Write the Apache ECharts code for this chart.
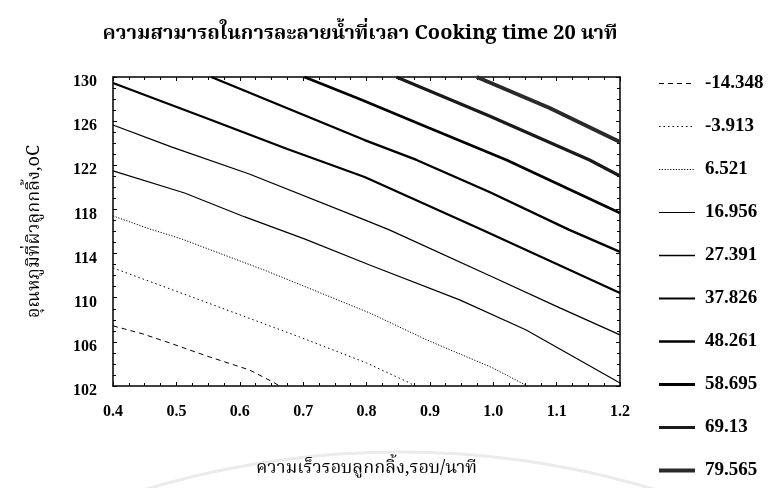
<!DOCTYPE html>
<html>
<head>
<meta charset="utf-8">
<script src="https://cdn.jsdelivr.net/npm/echarts@6/dist/echarts.min.js"></script>
<style>
  html, body { margin: 0; padding: 0; background: #fff; }
  #chart { width: 768px; height: 488px; }
</style>
</head>
<body>
<div id="chart"></div>
<script>
// Contour levels of water solubility (legend order)
const levelNames = ['-14.348', '-3.913', '6.521', '16.956', '27.391', '37.826', '48.261', '58.695', '69.13', '79.565'];

// Each contour: [roller speed (rpm), roller surface temperature (°C)]
const contour1 = [[0.400, 107.45], [0.447, 106.72], [0.489, 105.91], [0.552, 104.64], [0.615, 103.46], [0.652, 102.37], [0.663, 102.0]];
const contour2 = [[0.400, 112.70], [0.537, 109.80], [0.694, 106.45], [0.800, 104.09], [0.868, 102.28], [0.876, 102.0]];
const contour3 = [[0.400, 117.41], [0.458, 116.23], [0.508, 115.33], [0.642, 112.43], [0.805, 108.62], [0.895, 106.18], [0.999, 103.64], [1.054, 102.0]];
const contour4 = [[0.400, 121.49], [0.513, 119.49], [0.608, 117.32], [0.702, 115.33], [0.805, 112.97], [0.947, 109.80], [1.052, 107.08], [1.200, 102.28]];
const contour5 = [[0.400, 125.65], [0.492, 123.66], [0.615, 121.21], [0.797, 117.05], [0.836, 116.14], [0.999, 111.88], [1.105, 109.08], [1.200, 106.63]];
const contour6 = [[0.400, 129.46], [0.555, 126.11], [0.675, 123.48], [0.723, 122.48], [0.797, 120.94], [0.983, 116.14], [1.200, 110.43]];
const contour7 = [[0.555, 130.0], [0.797, 124.29], [0.879, 122.48], [0.994, 119.58], [1.120, 116.14], [1.200, 114.15]];
const contour8 = [[0.702, 130.0], [0.789, 128.01], [0.899, 125.38], [1.021, 122.48], [1.200, 117.68]];
const contour9 = [[0.847, 130.0], [0.994, 126.47], [1.152, 122.48], [1.200, 121.03]];
const contour10 = [[0.974, 130.0], [1.089, 127.19], [1.200, 124.11]];

const contours = [contour1, contour2, contour3, contour4, contour5, contour6, contour7, contour8, contour9, contour10];

// Axis ranges
const speedMin = 0.4, speedMax = 1.2, speedStep = 0.1;
const tempMin = 102, tempMax = 130, tempStep = 4;

// Line look for each level, thin/dashed for low values, heavy for high values
const lineLooks = [
  { width: 1, type: [5, 4], color: '#000' },
  { width: 1, type: [1.5, 3], color: '#000' },
  { width: 1, type: [1.2, 1.6], color: '#000' },
  { width: 1.2, type: 'solid', color: '#000' },
  { width: 1.3, type: 'solid', color: '#000' },
  { width: 2.2, type: 'solid', color: '#000' },
  { width: 2.4, type: 'solid', color: '#000' },
  { width: 2.8, type: 'solid', color: '#000' },
  { width: 3.2, type: 'solid', color: '#1a1a1a' },
  { width: 4, type: 'solid', color: '#2a2a2a' }
];

const serifBold = { fontFamily: 'Liberation Serif, Times New Roman, serif', fontWeight: 'bold', color: '#000' };
const thaiFont = 'Noto Serif Thai, Noto Sans Thai, Loma, Garuda, Tlwg Typo, Norasi, serif';

const chart = echarts.init(document.getElementById('chart'), null, { renderer: 'canvas' });

const axisCommon = {
  type: 'value',
  axisLine: { show: true, lineStyle: { color: '#000', width: 1.5 } },
  axisTick: { show: true, inside: true, length: 4, lineStyle: { color: '#000', width: 1 } },
  minorTick: { show: true, splitNumber: 4, length: 3, lineStyle: { color: '#000', width: 1 } },
  splitLine: { show: false },
  minorSplitLine: { show: false }
};

const option = {
  backgroundColor: '#fff',
  animation: false,
  title: {
    text: 'ความสามารถในการละลายน้ำที่เวลา Cooking time 20 นาที',
    left: 355,
    top: 21,
    textAlign: 'center',
    textStyle: { fontFamily: thaiFont, fontSize: 20, fontWeight: 'bold', color: '#000' }
  },
  legend: {
    orient: 'vertical',
    left: 657,
    top: 74,
    padding: 0,
    itemWidth: 36,
    itemHeight: 14,
    itemGap: 24,
    data: levelNames,
    textStyle: Object.assign({ fontSize: 19, padding: [0, 0, 0, 5] }, serifBold),
    itemStyle: { opacity: 0, borderWidth: 0 },
    lineStyle: { width: 'inherit' },
    selectedMode: false
  },
  graphic: [{
    // faint arc along the lower edge of the page
    type: 'arc',
    silent: true,
    z: -1,
    shape: { cx: 400, cy: 1338, r: 886, startAngle: Math.PI * 1.33, endAngle: Math.PI * 1.67 },
    style: { stroke: '#ebebeb', lineWidth: 3, fill: null }
  }],
  grid: { left: 113, top: 77, width: 507, height: 309, containLabel: false },
  xAxis: [
    Object.assign({}, axisCommon, {
      position: 'bottom',
      min: speedMin, max: speedMax, interval: speedStep,
      name: 'ความเร็วรอบลูกกลิ้ง,รอบ/นาที',
      nameLocation: 'middle',
      nameGap: 75,
      nameTextStyle: { fontFamily: thaiFont, fontSize: 18, color: '#000' },
      axisLabel: Object.assign({ fontSize: 16, margin: 18, formatter: v => v.toFixed(1) }, serifBold)
    }),
    Object.assign({}, axisCommon, {
      position: 'top',
      min: speedMin, max: speedMax, interval: speedStep,
      axisLabel: { show: false }
    })
  ],
  yAxis: [
    Object.assign({}, axisCommon, {
      position: 'left',
      min: tempMin, max: tempMax, interval: tempStep,
      name: 'อุณหภูมิที่ผิวลูกกลิ้ง,oC',
      nameLocation: 'middle',
      nameGap: 68,
      nameTextStyle: { fontFamily: thaiFont, fontSize: 18, color: '#000' },
      axisLabel: Object.assign({ fontSize: 16, margin: 16, verticalAlign: 'top', lineHeight: 10 }, serifBold)
    }),
    Object.assign({}, axisCommon, {
      position: 'right',
      min: tempMin, max: tempMax, interval: tempStep,
      axisLabel: { show: false }
    })
  ],
  series: contours.map((pts, i) => ({
    name: levelNames[i],
    type: 'line',
    xAxisIndex: 0,
    yAxisIndex: 0,
    data: pts,
    symbol: 'none',
    showSymbol: false,
    smooth: false,
    clip: true,
    lineStyle: lineLooks[i],
    itemStyle: { color: lineLooks[i].color },
    emphasis: { disabled: true }
  }))
};

chart.setOption(option);
</script>
</body>
</html>
